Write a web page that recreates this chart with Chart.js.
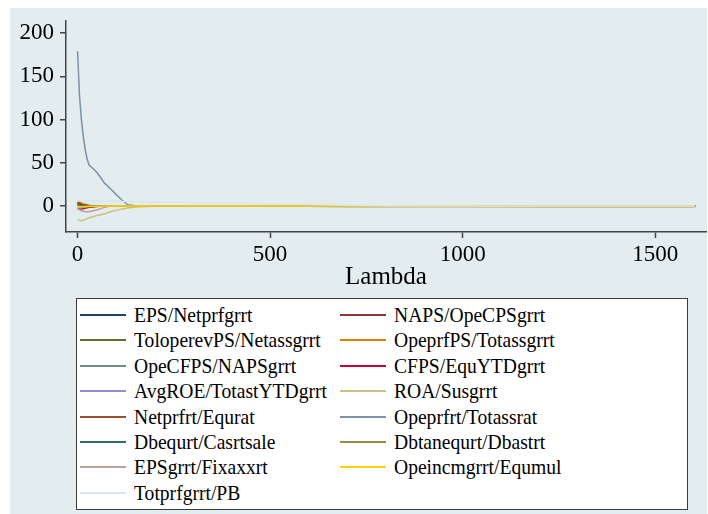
<!DOCTYPE html>
<html lang="en">
<head>
    <meta charset="UTF-8">
    <title>Lambda path</title>
    <script src="https://cdn.jsdelivr.net/npm/chart.js"></script>
    <style>
        body {
            margin: 0;
            background: #fff;
            font-family: "Liberation Serif", "Times New Roman", serif;
        }
        #frame {
            position: absolute;
            left: 10px;
            top: 8px;
            width: 697px;
            height: 506px;
            background: #e3edf0;
        }
        #plot {
            position: absolute;
            left: 0;
            top: 0;
            width: 708px;
            height: 290px;
        }
        #legend {
            position: absolute;
            left: 76px;
            top: 298px;
            width: 612px;
            height: 212px;
            box-sizing: border-box;
            border: 1px solid #3c3c3c;
            background: #fff;
        }
        .item {
            position: absolute;
            height: 24px;
            display: flex;
            align-items: center;
            font-size: 22px;
            color: #000;
            white-space: nowrap;
        }
        .item span.txt {
            display: inline-block;
            transform: scaleX(0.89);
            transform-origin: left center;
        }
        .swatch {
            width: 46px;
            height: 2px;
            margin-right: 8px;
        }
    </style>
</head>
<body>
    <div id="frame"></div>
    <div id="plot"><canvas id="lassoChart"></canvas></div>
    <div id="legend"></div>

    <script>
        // lambda grid and tick labels
        const lambdas = [0, 5, 10, 15, 20, 25, 30, 40, 50, 60, 70, 80, 90, 100, 115, 130, 150, 200, 300, 400, 500, 600, 700, 800, 1000, 1200, 1400, 1604];
        const xTicks = [0, 500, 1000, 1500];
        const yTicks = [0, 50, 100, 150, 200];

        const names = [
            'EPS/Netprfgrrt', 'NAPS/OpeCPSgrrt', 'ToloperevPS/Netassgrrt', 'OpeprfPS/Totassgrrt',
            'OpeCFPS/NAPSgrrt', 'CFPS/EquYTDgrrt', 'AvgROE/TotastYTDgrrt', 'ROA/Susgrrt',
            'Netprfrt/Equrat', 'Opeprfrt/Totassrat', 'Dbequrt/Casrtsale', 'Dbtanequrt/Dbastrt',
            'EPSgrrt/Fixaxxrt', 'Opeincmgrrt/Equmul', 'Totprfgrrt/PB'
        ];
        const colors = [
            '#1a476f', '#90353b', '#55752f', '#e37e00', '#6e8e84', '#c10534', '#938dd2', '#cac27e',
            '#a0522d', '#7b92a8', '#2d6d66', '#9c8847', '#bfa19c', '#ffd200', '#d9e6eb'
        ];

        // coefficient paths, one array per variable
        const epsNet     = [2, 1.5, 1, 0.8, 0.6, 0.4, 0.3, 0.2, 0.1, 0, 0, 0, 0, 0, 0, 0, 0, 0, 0, 0, 0, 0, 0, 0, 0, 0, 0, 0];
        const napsOpe    = [-3, -3.5, -3.5, -3, -2.5, -2, -1.5, -1, -0.5, -0.2, 0, 0, 0, 0, 0, 0, 0, 0, 0, 0, 0, 0, 0, 0, 0, 0, 0, 0];
        const tolOper    = [3, 2.5, 2, 1.5, 1, 0.8, 0.5, 0.3, 0.1, 0, 0, 0, 0, 0, 0, 0, 0, 0, 0, 0, 0, 0, 0, 0, 0, 0, 0, 0];
        const opeprfPS   = [5, 4.5, 3.5, 2.5, 2, 1.5, 1, 0.5, 0.2, 0, 0, 0, 0, 0, 0, 0, 0, 0, 0, 0, 0, 0, 0, 0, 0, 0, 0, 0];
        const opeCFPS    = [1, 1, 0.8, 0.5, 0.3, 0.2, 0.1, 0, 0, 0, 0, 0, 0, 0, 0, 0, 0, 0, 0, 0, 0, 0, 0, 0, 0, 0, 0, 0];
        const cfpsEqu    = [3.5, 3, 2, 1.5, 1, 0.7, 0.4, 0.2, 0, 0, 0, 0, 0, 0, 0, 0, 0, 0, 0, 0, 0, 0, 0, 0, 0, 0, 0, 0];
        const avgRoe     = [0.5, 0.5, 0.3, 0.2, 0.1, 0, 0, 0, 0, 0, 0, 0, 0, 0, 0, 0, 0, 0, 0, 0, 0, 0, 0, 0, 0, 0, 0, 0];
        const roaSus     = [-15.5, -16.5, -17, -16.5, -15.5, -14.5, -13.5, -12.3, -11, -10, -9, -7.5, -6, -5, -3.5, -2.2, -1, -0.3, -0.2, -0.2, -0.3, -0.3, -0.4, -0.5, -0.6, -0.7, -0.8, -0.8];
        const netprfEqu  = [4, 3, 2, 1.5, 1, 0.6, 0.3, 0.1, 0, 0, 0, 0, 0, 0, 0, 0, 0, 0, 0, 0, 0, 0, 0, 0, 0, 0, 0, 0];
        const opeprfTot  = [179, 128, 100, 80, 65, 54, 47.5, 43.5, 39, 33, 26.5, 22.5, 18, 13.5, 7, 1.5, 0.5, 0.3, 0.2, 0.1, 0.1, 0, 0, 0, 0, 0, 0, 0];
        const dbequCas   = [2, 1.5, 1, 0.6, 0.4, 0.2, 0.1, 0, 0, 0, 0, 0, 0, 0, 0, 0, 0, 0, 0, 0, 0, 0, 0, 0, 0, 0, 0, 0];
        const dbtanDbas  = [-1.5, -1.5, -1.2, -1, -0.8, -0.6, -0.5, -0.4, -0.3, -0.3, -0.3, -0.3, -0.3, -0.3, -0.3, -0.3, -0.3, -0.3, -0.3, -0.3, -0.3, -0.3, -0.4, -0.4, -0.4, -0.5, -0.5, -0.5];
        const epsFix     = [-3, -4.5, -5.5, -6, -6.5, -6.5, -6.5, -5.5, -4.5, -3, -1.5, -0.5, 0, 0, 0, 0, 0, 0, 0, 0, 0, 0, 0, 0, 0, 0, 0, 0];
        const opeincEqu  = [-1, -1, -0.8, -0.6, -0.5, -0.4, -0.3, -0.2, -0.1, 0, 0, 0, 0, 0, 0, 0, 0, 0, 0, 0, 0, 0, 0, 0, 0, 0, 0, 0];
        const totprfPB   = [6, 6, 6, 6, 6, 6, 6, 6, 6, 5.9, 5.8, 5.7, 5.6, 5.5, 5.3, 5.2, 5, 4.6, 4, 3.4, 2.7, 1.9, 1, 0.3, 0, 0, 0, 0];

        const paths = [epsNet, napsOpe, tolOper, opeprfPS, opeCFPS, cfpsEqu, avgRoe, roaSus,
                       netprfEqu, opeprfTot, dbequCas, dbtanDbas, epsFix, opeincEqu, totprfPB];

        const serif = '"Liberation Serif", "Times New Roman", serif';

        // later variables drawn on top, like the original
        const datasets = paths.map((vals, i) => ({
            label: names[i],
            data: vals.map((v, j) => ({ x: lambdas[j], y: v })),
            borderColor: colors[i],
            backgroundColor: colors[i],
            borderWidth: 1.5,
            pointRadius: 0,
            fill: false,
            order: paths.length - i
        }));

        const ctx = document.getElementById('lassoChart').getContext('2d');
        new Chart(ctx, {
            type: 'line',
            data: { datasets: datasets },
            options: {
                responsive: true,
                maintainAspectRatio: false,
                animation: false,
                layout: { padding: { left: 10, top: 21, right: 2, bottom: 0 } },
                plugins: {
                    legend: { display: false },
                    tooltip: { enabled: false }
                },
                scales: {
                    x: {
                        type: 'linear',
                        min: -30,
                        max: 1632,
                        afterBuildTicks: s => { s.ticks = xTicks.map(v => ({ value: v })); },
                        afterFit: s => { s.height = 58; },
                        grid: { drawOnChartArea: false, tickLength: 6, tickColor: '#444', tickWidth: 1.5 },
                        border: { display: true, color: '#444', width: 1.5 },
                        ticks: {
                            color: '#000', padding: 3, maxRotation: 0,
                            font: { family: serif, size: 23 },
                            callback: v => String(v)
                        },
                        title: { display: true, text: 'Lambda', color: '#000', padding: 0, font: { family: serif, size: 25, lineHeight: 1 } }
                    },
                    y: {
                        min: -30,
                        max: 214,
                        afterBuildTicks: s => { s.ticks = yTicks.map(v => ({ value: v })); },
                        afterFit: s => { s.width = 56; },
                        grid: { color: '#e4eef2', lineWidth: 1.5, tickLength: 6, tickColor: '#444', tickWidth: 1.5 },
                        border: { display: true, color: '#444', width: 1.5 },
                        ticks: {
                            color: '#000', padding: 6,
                            font: { family: serif, size: 23 },
                            callback: v => String(v)
                        }
                    }
                }
            }
        });

        // two-column legend box below the plot
        const legend = document.getElementById('legend');
        names.forEach((name, i) => {
            const row = Math.floor(i / 2);
            const col = i % 2;
            const item = document.createElement('div');
            item.className = 'item';
            item.style.left = (col === 0 ? 3 : 263) + 'px';
            item.style.top = (4 + row * 25.4) + 'px';
            item.innerHTML = `<span class="swatch" style="background:${colors[i]}"></span><span class="txt">${name}</span>`;
            legend.appendChild(item);
        });
    </script>
</body>
</html>
